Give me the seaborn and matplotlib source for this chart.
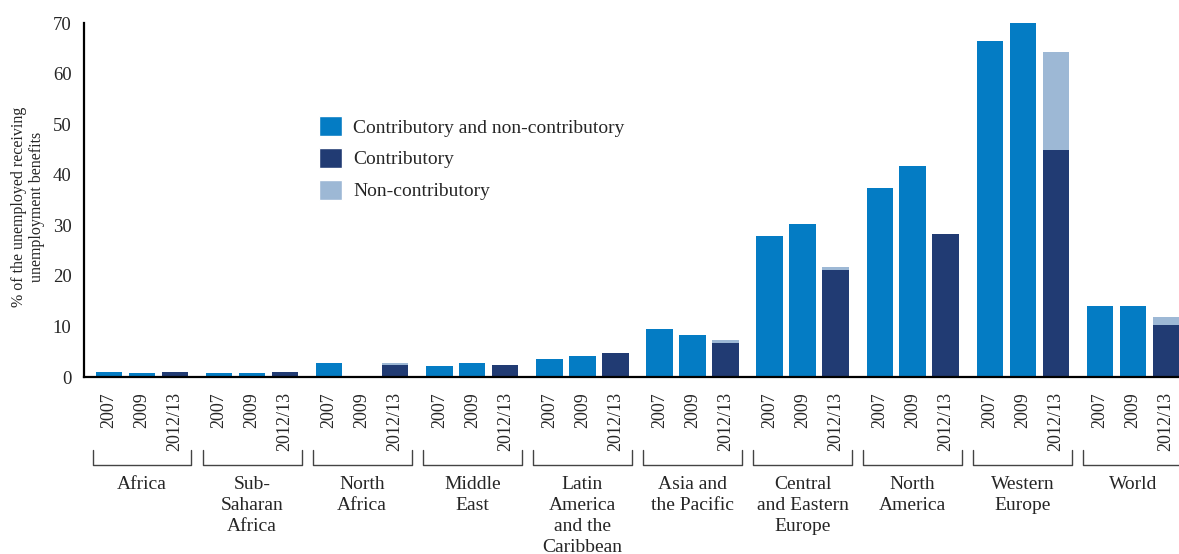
import numpy as np
import pandas as pd
import matplotlib
matplotlib.use("Agg")
import matplotlib.pyplot as plt
import matplotlib.transforms as mtransforms
from matplotlib.patches import Patch
import seaborn as sns

# values (% of unemployed receiving benefits)
regions = ["Africa", "Sub-\nSaharan\nAfrica", "North\nAfrica", "Middle\nEast",
           "Latin\nAmerica\nand the\nCaribbean", "Asia and\nthe Pacific",
           "Central\nand Eastern\nEurope", "North\nAmerica", "Western\nEurope", "World"]
years = ["2007", "2009", "2012/13"]
both_2007 = [1.0, 0.8, 2.8, 2.2, 3.6, 9.5, 27.9, 37.3, 66.5, 14.0]
both_2009 = [0.8, 0.8, 0.25, 2.8, 4.2, 8.3, 30.3, 41.8, 70.0, 14.0]
contrib_2012 = [1.0, 1.0, 2.4, 2.4, 4.7, 6.7, 21.2, 28.3, 44.9, 10.3]
noncontrib_2012 = [0.0, 0.0, 0.4, 0.0, 0.0, 0.6, 0.55, 0.0, 19.4, 1.6]

BLUE = "#047cc4"
DARK = "#213b73"
LIGHT = "#9db8d5"
STEP = 3.34  # distance between group starts, in bar units

rows = []
for g, reg in enumerate(regions):
    vals = [both_2007[g], both_2009[g], contrib_2012[g]]
    for j, yr in enumerate(years):
        is_new = j == 2
        rows.append({
            "pos": round(g * STEP + j, 3),
            "year": yr,
            "value": vals[j],
            "total": vals[j] + (noncontrib_2012[g] if is_new else 0.0),
            "kind": "Contributory" if is_new else "Contributory and non-contributory",
            "top_kind": "Non-contributory" if is_new else "Contributory and non-contributory",
        })
df = pd.DataFrame(rows)

sns.set_style("white")
plt.rcParams["font.family"] = ["Liberation Serif", "DejaVu Serif"]

fig = plt.figure(figsize=(11.79, 5.54), dpi=100)
ax = fig.add_axes([84 / 1179, 177 / 554, 1 - 84 / 1179, 354 / 554])

palette = {"Contributory and non-contributory": BLUE, "Contributory": DARK, "Non-contributory": LIGHT}

# total height first (light top part), then the lower part on top of it
sns.barplot(data=df, x="pos", y="total", hue="top_kind", palette=palette, native_scale=True,
            dodge=False, width=0.8, errorbar=None, saturation=1, legend=False, ax=ax,
            linewidth=0, edgecolor="none")
sns.barplot(data=df, x="pos", y="value", hue="kind", palette=palette, native_scale=True,
            dodge=False, width=0.8, errorbar=None, saturation=1, legend=False, ax=ax,
            linewidth=0, edgecolor="none")

ax.set_ylim(0, 70)
ax.set_xlim(-0.76, 32.46)
ax.set_yticks(range(0, 71, 10))
ax.tick_params(axis="y", length=0, pad=9, labelsize=13.5)
ax.set_xticks(df["pos"])
ax.set_xticklabels(df["year"], rotation=90)
ax.tick_params(axis="x", length=0, pad=11, labelsize=13)
ax.set_xlabel("")
ax.set_ylabel("% of the unemployed receiving\nunemployment benefits", fontsize=11.5, linespacing=1.1)
ax.yaxis.set_label_coords(-0.036, 0.48)

sns.despine(ax=ax)
for side in ["left", "bottom"]:
    ax.spines[side].set_color("black")
    ax.spines[side].set_linewidth(1.6)

# brackets and group names under the year labels
trans = mtransforms.blended_transform_factory(ax.transData, ax.transAxes)
y_top = (377 - 450) / 354
y_bot = (377 - 465) / 354
for g, reg in enumerate(regions):
    x0 = g * STEP - 0.5
    x1 = g * STEP + 2.5
    ax.plot([x0, x0, x1, x1], [y_top, y_bot, y_bot, y_top], color="#444444", lw=1,
            transform=trans, clip_on=False)
    ax.text(g * STEP + 1, (377 - 476) / 354, reg, transform=trans, ha="center", va="top",
            fontsize=14, linespacing=1.3)

handles = [Patch(facecolor=BLUE, label="Contributory and non-contributory"),
           Patch(facecolor=DARK, label="Contributory"),
           Patch(facecolor=LIGHT, label="Non-contributory")]
fig.legend(handles=handles, loc="upper left", bbox_to_anchor=(319 / 1179, 1 - 116 / 554),
           frameon=False, fontsize=14, handlelength=1.2, handleheight=1.2,
           handletextpad=0.55, labelspacing=0.58, borderpad=0, borderaxespad=0)

fig.savefig("out.png", dpi=100)
